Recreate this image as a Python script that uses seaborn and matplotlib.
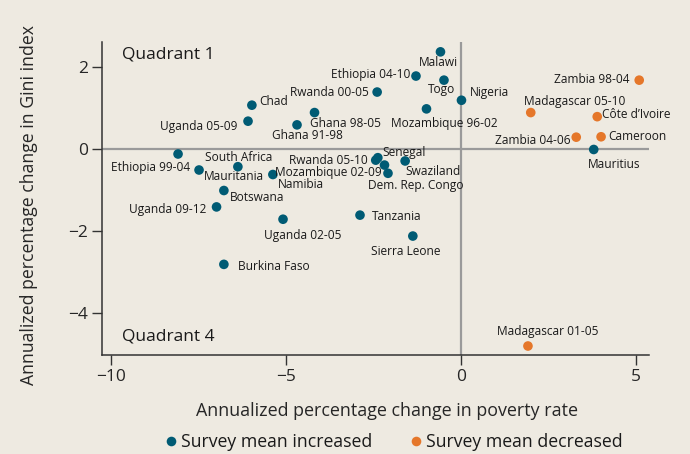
import pandas as pd
import seaborn as sns
import matplotlib.pyplot as plt

# survey spells
names = ['Chad', 'Uganda 05-09', 'Ghana 98-05', 'Ghana 91-98', 'Rwanda 00-05',
         'Ethiopia 04-10', 'Malawi', 'Togo', 'Nigeria', 'Mozambique 96-02',
         'Ethiopia 99-04', 'Mauritania', 'South Africa', 'Namibia', 'Botswana',
         'Uganda 09-12', 'Uganda 02-05', 'Burkina Faso', 'Tanzania', 'Sierra Leone',
         'Senegal', 'Rwanda 05-10', 'Mozambique 02-09', 'Dem. Rep. Congo', 'Swaziland',
         'Mauritius',
         'Zambia 98-04', 'Madagascar 05-10', 'Côte d’Ivoire', 'Cameroon', 'Zambia 04-06',
         'Madagascar 01-05']
poverty_change = [-5.98, -6.09, -4.19, -4.69, -2.40,
                  -1.29, -0.59, -0.49, 0.01, -0.99,
                  -8.09, -7.49, -6.38, -5.38, -6.78,
                  -6.99, -5.09, -6.78, -2.89, -1.38,
                  -2.38, -2.44, -2.19, -2.09, -1.60,
                  3.79,
                  5.09, 1.99, 3.89, 4.00, 3.29,
                  1.91]
gini_change = [1.07, 0.68, 0.89, 0.59, 1.39,
               1.78, 2.37, 1.68, 1.19, 0.98,
               -0.12, -0.51, -0.43, -0.62, -1.01,
               -1.41, -1.71, -2.81, -1.61, -2.12,
               -0.21, -0.27, -0.39, -0.59, -0.29,
               -0.01,
               1.68, 0.89, 0.79, 0.30, 0.29,
               -4.80]
mean_change = ['Survey mean increased'] * 26 + ['Survey mean decreased'] * 6

# label placement: (ha, dx px, dy px)
label_pos = {
    'Chad': ('left', 7, 4), 'Uganda 05-09': ('right', -11, -5),
    'Ghana 98-05': ('left', -5, -11), 'Ghana 91-98': ('center', 10, -11),
    'Rwanda 00-05': ('right', -8, 0), 'Ethiopia 04-10': ('right', -6, 2),
    'Malawi': ('center', -2, -11), 'Togo': ('center', -2, -9),
    'Nigeria': ('left', 8, 8), 'Mozambique 96-02': ('center', 18, -15),
    'Ethiopia 99-04': ('right', 12, -14), 'Mauritania': ('left', 5, -7),
    'South Africa': ('center', 1, 9), 'Namibia': ('left', 5, -10),
    'Botswana': ('left', 6, -7), 'Uganda 09-12': ('right', -10, -3),
    'Uganda 02-05': ('center', 20, -16), 'Burkina Faso': ('left', 14, -2),
    'Tanzania': ('left', 12, -1), 'Sierra Leone': ('center', -7, -15),
    'Senegal': ('left', 5, 5), 'Rwanda 05-10': ('right', -8, 0),
    'Mozambique 02-09': ('right', -3, -7), 'Dem. Rep. Congo': ('center', 28, -12),
    'Swaziland': ('left', 0, -11), 'Mauritius': ('center', 20, -15),
    'Zambia 98-04': ('right', -10, 1), 'Madagascar 05-10': ('left', -7, 11),
    'Côte d’Ivoire': ('left', 5, 2), 'Cameroon': ('left', 7, 0),
    'Zambia 04-06': ('right', -6, -3), 'Madagascar 01-05': ('center', 20, 15),
}

df = pd.DataFrame({'name': names, 'poverty': poverty_change,
                   'gini': gini_change, 'mean': mean_change})

bg = '#EEEAE1'
sns.set_theme(style='ticks')
plt.rcParams['font.family'] = ['Open Sans', 'DejaVu Sans']
plt.rcParams['text.color'] = '#1a1a1a'

fig = plt.figure(figsize=(6.9, 4.54), dpi=100, facecolor=bg)
ax = fig.add_axes([0.148, 0.218, 0.7926, 0.6895])
ax.set_facecolor(bg)

ax.axhline(0, color='#9a9a9a', lw=1.6, zorder=1)
ax.axvline(0, color='#9a9a9a', lw=1.6, zorder=1)

sns.scatterplot(data=df, x='poverty', y='gini', hue='mean',
                palette={'Survey mean increased': '#005B74',
                         'Survey mean decreased': '#E5772A'},
                s=48, edgecolor='none', ax=ax, zorder=3)

for n, x, y in zip(names, poverty_change, gini_change):
    ha, dx, dy = label_pos[n]
    ax.annotate(n, (x, y), xytext=(dx, dy), textcoords='offset pixels',
                ha=ha, va='center', fontsize=8.6)

ax.text(0.037, 0.96, 'Quadrant 1', transform=ax.transAxes, fontsize=12.5, va='center')
ax.text(0.037, 0.06, 'Quadrant 4', transform=ax.transAxes, fontsize=12.5, va='center')

ax.set_xlim(-10.26, 5.37)
ax.set_ylim(-5.02, 2.61)
ax.set_xticks([-10, -5, 0, 5])
ax.set_yticks([-4, -2, 0, 2])
ax.set_xticklabels(['−10', '−5', '0', '5'])
ax.set_yticklabels(['−4', '−2', '0', '2'])
ax.tick_params(labelsize=12.5, length=7, width=1, color='#333333', pad=3)
sns.despine(ax=ax)
for s in ['left', 'bottom']:
    ax.spines[s].set_color('#333333')
    ax.spines[s].set_linewidth(1.1)

ax.set_xlabel('Annualized percentage change in poverty rate', fontsize=12.9)
ax.set_ylabel('Annualized percentage change in Gini index', fontsize=12.7)
ax.xaxis.set_label_coords(0.52, -0.15)
ax.yaxis.set_label_coords(-0.117, 0.48)

sns.move_legend(ax, 'center', bbox_to_anchor=(0.569, 0.026),
                bbox_transform=fig.transFigure, ncol=2, frameon=False,
                title=None, fontsize=12.7, handletextpad=0.1,
                handlelength=0.95, columnspacing=2.0, markerscale=1.0)

fig.savefig('out.png', dpi=100, facecolor=bg)
